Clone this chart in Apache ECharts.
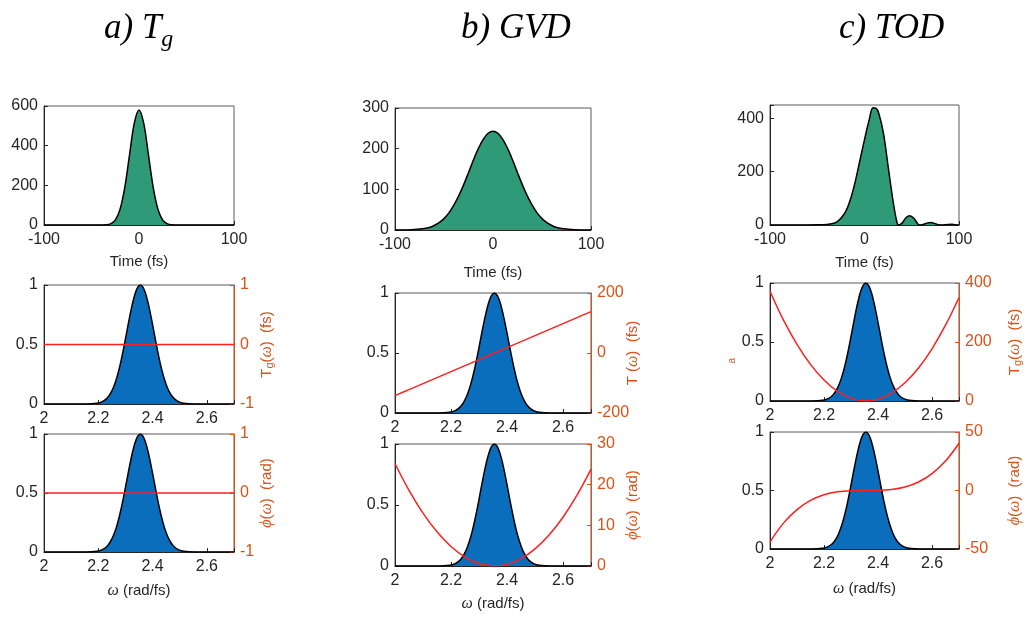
<!DOCTYPE html>
<html><head><meta charset="utf-8">
<script src="https://cdn.jsdelivr.net/npm/echarts@6/dist/echarts.min.js"></script>
<style>html,body{margin:0;padding:0;background:#fff}#c{width:1032px;height:624px}</style>
</head><body><div id="c"></div>
<script>
// ---- data ----
const timeA  = [-100,-60,-45,-40,-35,-30,-25,-20,-15,-10,-5,0,5,10,15,20,25,30,35,40,45,60,100];
const powerA = [0,0,0,0,1,6,25,78,188,352,512,580,512,352,188,78,25,6,1,0,0,0,0];

const timeB  = [-100,-90,-80,-70,-65,-60,-55,-50,-45,-40,-35,-30,-25,-20,-15,-10,-5,0,5,10,15,20,25,30,35,40,45,50,55,60,65,70,80,90,100];
const powerB = [0,0.2,1,3.5,6,11,18,28,42,61,84,111,141,172,200,223,238,243,238,223,200,172,141,111,84,61,42,28,18,11,6,3.5,1,0.2,0];

const timeC  = [-100,-60,-50,-40,-35,-30,-25,-20,-15,-10,-5,0,5,9,12,15,20,25,30,34,36,40,44,48,52,56,58,62,66,70,74,78,82,88,92,96,100];
const powerC = [0,0,0.5,2,5,10,25,50,95,160,240,320,395,440,438,420,345,220,95,15,0,8,28,35,26,6,0,2,7,9,6,1,0,2,3,1,0];

const specOmega = [2,2.1,2.155,2.175,2.195,2.205,2.215,2.225,2.235,2.245,2.255,2.265,2.275,2.285,2.295,2.305,2.315,2.325,2.335,2.345,2.355,2.365,2.375,2.385,2.395,2.405,2.415,2.425,2.435,2.445,2.455,2.465,2.475,2.485,2.495,2.505,2.515,2.535,2.555,2.6,2.7];
const specAmp   = [0,0,0.0003,0.0015,0.006,0.011,0.020,0.034,0.056,0.089,0.135,0.198,0.278,0.375,0.487,0.607,0.726,0.835,0.923,0.980,1,0.980,0.923,0.835,0.726,0.607,0.487,0.375,0.278,0.198,0.135,0.089,0.056,0.034,0.020,0.011,0.006,0.0015,0.0003,0,0];

const phaseOmega = [2,2.05,2.1,2.15,2.2,2.25,2.3,2.355,2.4,2.45,2.5,2.55,2.6,2.65,2.7];
const tgA  = [0,0,0,0,0,0,0,0,0,0,0,0,0,0,0];
const phiA = [0,0,0,0,0,0,0,0,0,0,0,0,0,0,0];
const tB   = [-142,-122,-102,-82,-62,-42,-22,0,18,38,58,78,98,118,138];
const phiB = [25.2,18.6,13.0,8.4,4.8,2.2,0.6,0,0.4,1.8,4.2,7.6,12.0,17.4,23.8];
const tgC  = [372,274,192,124,71,32.5,9,0,6,27,62,112,177,257,351];
const phiC = [-44,-27.9,-16.3,-8.5,-3.7,-1.1,-0.16,0,0.09,0.84,3.0,7.3,14.5,25.2,40.4];

const timeTicks = [-100,0,100];
const titles = ['a) T','b) GVD','c) TOD'];

// ---- styling / layout ----
const ORANGE = '#D95319', INK = '#262626', RED = '#ff1f1f';
const GREEN = '#2f9a78', BLUE = '#0a6ebd';
const FONT = '"Liberation Sans", Arial, Helvetica, sans-serif';
const SERIF = '"Liberation Serif", "DejaVu Serif", serif';
const FS = 16;

const cols = [
  {left:44,  w:190, tops:[106,285,434], hs:[119,119,118], timeGap:29, wGap:31, rGap:25, tmax:600, tint:200},
  {left:395, w:196, tops:[108,293,444], hs:[122,120,122], timeGap:35, wGap:30, rGap:34, tmax:300, tint:100},
  {left:770, w:189, tops:[105,283,432], hs:[120,118,117], timeGap:30, wGap:32, rGap:48, tmax:450, tint:200}
];
const times = [timeA, timeB, timeC];
const powers = [powerA, powerB, powerC];
const rightCfg = [
  [{min:-1,max:1,interval:1,data:tgA,name:'{m|T}{s|g}{m|(}{w|ω}{m|)  (fs)}'},
   {min:-1,max:1,interval:1,data:phiA,name:'{w|ϕ}{m|(}{w|ω}{m|)  (rad)}'}],
  [{min:-200,max:200,interval:200,data:tB,name:'{m|T (}{w|ω}{m|)  (fs)}'},
   {min:0,max:30,interval:10,data:phiB,name:'{w|ϕ}{m|(}{w|ω}{m|)  (rad)}'}],
  [{min:0,max:400,interval:200,data:tgC,name:'{m|T}{s|g}{m|(}{w|ω}{m|)  (fs)}'},
   {min:-50,max:50,interval:50,data:phiC,name:'{w|ϕ}{m|(}{w|ω}{m|)  (rad)}'}]
];

const nameRich = (color) => ({
  m:{color, fontSize:15, fontFamily:FONT},
  s:{color, fontSize:11, fontFamily:FONT, lineHeight:11, verticalAlign:'bottom'},
  w:{color, fontSize:16, fontFamily:SERIF, fontStyle:'italic'}
});

const grid=[], xAxis=[], yAxis=[], series=[];
function tickStyle(color){ return {show:true, inside:true, length:4, lineStyle:{color}}; }
function line(color){ return {show:true, onZero:false, lineStyle:{color}}; }

cols.forEach((c, j) => {
  for (let r = 0; r < 3; r++) {
    const gi = grid.length;
    grid.push({left:c.left, top:c.tops[r], width:c.w, height:c.hs[r], show:true,
               borderColor:'#5a5a5a', borderWidth:1, containLabel:false});
    if (r === 0) {
      xAxis.push({gridIndex:gi, type:'value', min:-100, max:100, interval:100,
        name:'Time (fs)', nameLocation:'middle', nameGap:c.timeGap, nameMoveOverlap:false,
        nameTextStyle:{color:INK, fontSize:15, fontFamily:FONT},
        axisLine:line(INK), axisTick:tickStyle(INK), splitLine:{show:false},
        axisLabel:{color:INK, fontSize:FS, fontFamily:FONT, margin:7,
          formatter:v => timeTicks.includes(v) ? String(v) : ''}});
      const yi = yAxis.length;
      yAxis.push({gridIndex:gi, type:'value', min:0, max:c.tmax, interval:c.tint,
        axisLine:line(INK), axisTick:tickStyle(INK), splitLine:{show:false},
        axisLabel:{color:INK, fontSize:FS, fontFamily:FONT, margin:6,
          formatter:v => (v % c.tint === 0) ? String(v) : ''}});
      series.push({type:'line', xAxisIndex:gi, yAxisIndex:yi, smooth:0.35, symbol:'none',
        data: times[j].map((t,k)=>[t, powers[j][k]]),
        lineStyle:{color:'#000', width:1.5}, areaStyle:{color:GREEN, opacity:1}, z:2});
    } else {
      const xa = {gridIndex:gi, type:'value', min:2, max:2.7, interval:0.2,
        axisLine:line(INK), axisTick:tickStyle(INK), splitLine:{show:false},
        axisLabel:{color:INK, fontSize:FS, fontFamily:FONT, margin:7,
          formatter:v => Math.abs(v-2.7)<1e-6 ? '' : String(+(+v).toFixed(1))}};
      if (r === 2) {
        xa.name = '{w|ω}{m| (rad/fs)}';
        xa.nameLocation = 'middle'; xa.nameGap = c.wGap; xa.nameMoveOverlap = false;
        xa.nameTextStyle = {rich:nameRich(INK)};
      }
      xAxis.push(xa);
      const yl = yAxis.length;
      yAxis.push({gridIndex:gi, type:'value', min:0, max:1, interval:0.5, position:'left',
        axisLine:line(INK), axisTick:tickStyle(INK), splitLine:{show:false},
        axisLabel:{color:INK, fontSize:FS, fontFamily:FONT, margin:6}});
      const rc = rightCfg[j][r-1];
      const yr = yAxis.length;
      yAxis.push({gridIndex:gi, type:'value', min:rc.min, max:rc.max, interval:rc.interval, position:'right',
        name:rc.name, nameLocation:'middle', nameGap:c.rGap, nameRotate:90, nameMoveOverlap:false,
        nameTextStyle:{rich:nameRich(ORANGE)},
        axisLine:line(ORANGE), axisTick:tickStyle(ORANGE), splitLine:{show:false},
        axisLabel:{color:ORANGE, fontSize:FS, fontFamily:FONT, margin:6}});
      series.push({type:'line', xAxisIndex:gi, yAxisIndex:yl, smooth:0.35, symbol:'none',
        data: specOmega.map((w,k)=>[w, specAmp[k]]),
        lineStyle:{color:'#000', width:1.5}, areaStyle:{color:BLUE, opacity:1}, z:2});
      series.push({type:'line', xAxisIndex:gi, yAxisIndex:yr, smooth:0.4, symbol:'none',
        data: phaseOmega.map((w,k)=>[w, rc.data[k]]),
        lineStyle:{color:RED, width:1.5}, z:3});
    }
  }
});

const titleRich = {
  m:{fontSize:35, fontFamily:SERIF, fontStyle:'italic', fontWeight:'normal', color:'#000', lineHeight:38},
  s:{fontSize:24, fontFamily:SERIF, fontStyle:'italic', fontWeight:'normal', color:'#000', lineHeight:24, padding:[22,0,0,0]}
};
const title = [
  {text:'{m|' + titles[0] + '}{s|g}', left:99, top:5, textStyle:{fontWeight:'normal', rich:titleRich}},
  {text:'{m|' + titles[1] + '}', left:456, top:5, textStyle:{fontWeight:'normal', rich:titleRich}},
  {text:'{m|' + titles[2] + '}', left:834, top:5, textStyle:{fontWeight:'normal', rich:titleRich}}
];

const chart = echarts.init(document.getElementById('c'), null, {renderer:'canvas'});
chart.setOption({
  animation:false, backgroundColor:'#fff',
  title, grid, xAxis, yAxis, series,
  graphic:[{type:'text', left:727, top:358, rotation:Math.PI/2,
    style:{text:'a', fill:ORANGE, font:'10px ' + FONT}}]
});
</script>
</body></html>
